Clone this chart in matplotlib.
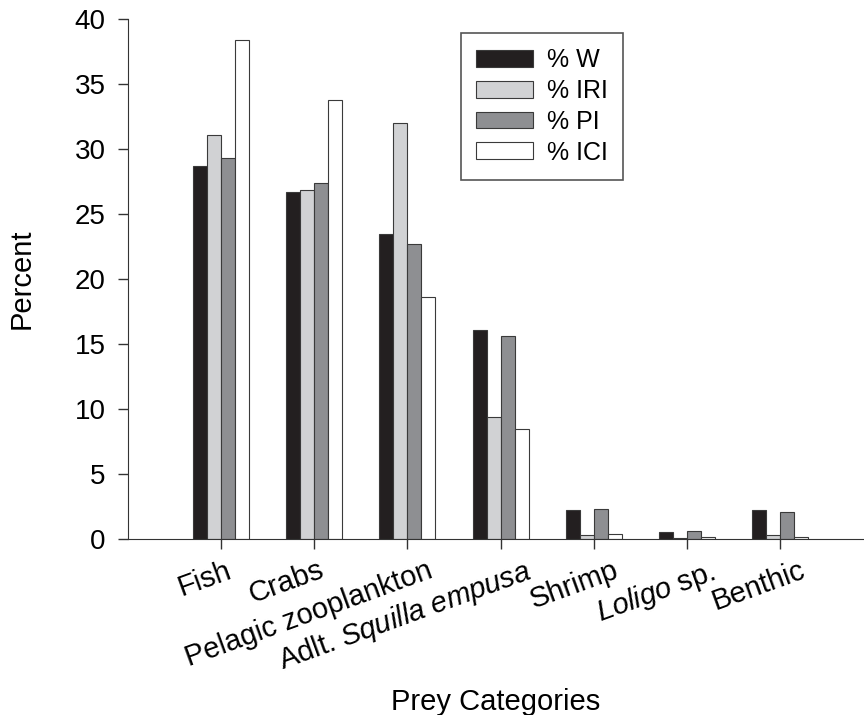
import matplotlib.pyplot as plt
import matplotlib.transforms as mtransforms
import numpy as np

plt.rcParams['font.family'] = ['Liberation Sans', 'DejaVu Sans']
plt.rcParams['mathtext.fontset'] = 'custom'
plt.rcParams['mathtext.rm'] = 'Liberation Sans'
plt.rcParams['mathtext.it'] = 'Liberation Sans:italic'

categories = ['Fish', 'Crabs', 'Pelagic zooplankton', r'Adlt. $\mathit{Squilla\ empusa}$',
              'Shrimp', r'$\mathit{Loligo}$ sp.', 'Benthic']
pct_w = [28.7, 26.7, 23.5, 16.1, 2.25, 0.55, 2.25]
pct_iri = [31.1, 26.9, 32.0, 9.4, 0.3, 0.05, 0.3]
pct_pi = [29.3, 27.4, 22.7, 15.6, 2.3, 0.65, 2.1]
pct_ici = [38.4, 33.8, 18.6, 8.5, 0.4, 0.15, 0.2]

series = [('% W', pct_w, '#231f20'), ('% IRI', pct_iri, '#d1d2d4'),
          ('% PI', pct_pi, '#8e8f92'), ('% ICI', pct_ici, '#ffffff')]

# horizontal nudge (pixels) of each rotated category label, as in the original
label_dx = [14, 13, 29, 35, 28, 33, 29]

fig = plt.figure(figsize=(8.64, 7.15), dpi=100)
ax = fig.add_axes([0.148, 0.246, 0.852, 0.727])

x = np.arange(1, len(categories) + 1)
w = 0.15
for i, (lab, vals, col) in enumerate(series):
    ax.bar(x + (i - 1.5) * w, vals, w, color=col, edgecolor='#3a3a3a', linewidth=0.8, label=lab)

ax.set_xlim(0, 7.9)
ax.set_ylim(0, 40)
ax.set_yticks(range(0, 41, 5))
ax.set_xticks(x)
ax.tick_params(labelsize=20, length=7, width=1, direction='out', color='#333333')
ax.tick_params(axis='x', labelbottom=False)
ax.tick_params(axis='y', pad=9)

# category labels, rotated, hung under each tick
base = ax.get_xaxis_transform()
for xi, name, dx in zip(x, categories, label_dx):
    off = mtransforms.ScaledTranslation(dx / 100, -17 / 100, fig.dpi_scale_trans)
    ax.text(xi, 0, name, transform=base + off, rotation=20, ha='right', va='top',
            fontsize=21)

ax.spines['top'].set_visible(False)
ax.spines['right'].set_visible(False)
for s in ('left', 'bottom'):
    ax.spines[s].set_color('#333333')
ax.set_ylabel('Percent', fontsize=21, labelpad=28)
ax.set_xlabel('Prey Categories', fontsize=21, labelpad=100)

leg = ax.legend(loc='upper left', bbox_to_anchor=(0.4525, 0.973), fontsize=18,
                fancybox=False, edgecolor='#555555', handlelength=2.3, handleheight=0.65,
                handletextpad=0.55, borderpad=0.6, labelspacing=0.27, framealpha=1,
                borderaxespad=0)
leg.get_frame().set_linewidth(1.2)

fig.savefig('out.png', dpi=100)
